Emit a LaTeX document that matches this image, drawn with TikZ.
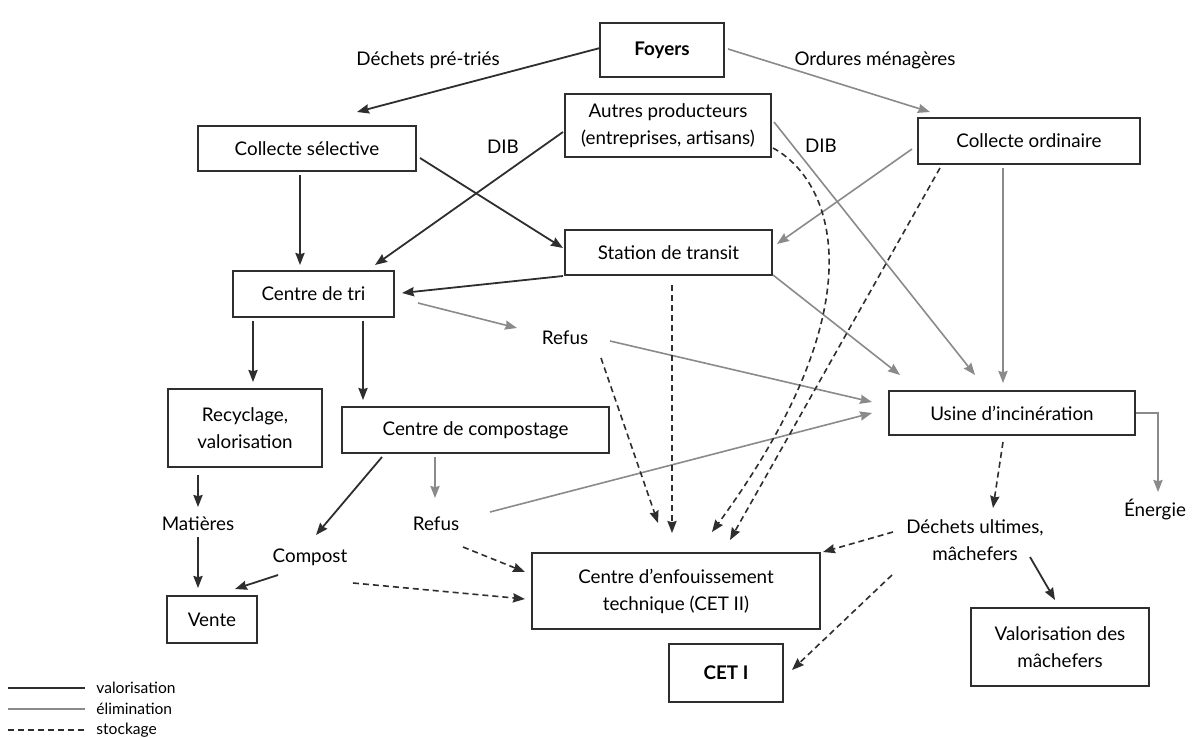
\documentclass[tikz,border=0pt]{standalone}
\usepackage{fontspec}
\setmainfont{Lato}
\usetikzlibrary{arrows.meta,calc}
\definecolor{dk}{HTML}{2E2E2E}
\definecolor{gr}{HTML}{8A8A8A}
\begin{document}
\begin{tikzpicture}[x=0.5pt,y=-0.5pt,
  every node/.style={font=\fontsize{9.4}{13.5}\selectfont},
  box/.style={draw=dk, line width=1pt, inner sep=0pt, align=center},
  lbl/.style={inner sep=0pt, align=center},
  tip/.style={-{Stealth[length=6pt,width=4.6pt,inset=0.6pt]}},
  valo/.style={draw=dk, line width=0.9pt, tip},
  elim/.style={draw=gr, line width=0.8pt, tip},
  stock/.style={draw=dk, line width=0.8pt, dash pattern=on 3pt off 2pt, tip},
  legtxt/.style={inner sep=0pt, anchor=west, font=\fontsize{7.8}{9}\selectfont}]
\useasboundingbox (0,0) rectangle (1195,738);
% boxes
\node[box, minimum width=62pt, minimum height=27pt, font=\fontsize{9.4}{13.5}\selectfont\bfseries] (foyers) at (662,50) {Foyers};
\node[box, minimum width=103pt, minimum height=31.5pt] (autres) at (668,125.5) {Autres producteurs\\(entreprises, artisans)};
\node[box, minimum width=109pt, minimum height=22.5pt] (csel) at (307,148.5) {Collecte sélective};
\node[box, minimum width=111pt, minimum height=23pt] (cord) at (1029,141) {Collecte ordinaire};
\node[box, minimum width=103.5pt, minimum height=22.5pt] (station) at (668.5,252.5) {Station de transit};
\node[box, minimum width=80.5pt, minimum height=23pt] (tri) at (313.5,294) {Centre de tri};
\node[box, minimum width=77pt, minimum height=39pt] (recyc) at (245,428) {Recyclage,\\valorisation};
\node[box, minimum width=133.5pt, minimum height=23pt] (compbox) at (475.5,430) {Centre de compostage};
\node[box, minimum width=123pt, minimum height=22pt] (usine) at (1012,413) {Usine d’incinération};
\node[box, minimum width=144pt, minimum height=38pt] (cet2) at (676,591) {Centre d’enfouissement\\technique (CET II)};
\node[box, minimum width=45pt, minimum height=23.5pt] (vente) at (212,619.5) {Vente};
\node[box, minimum width=89pt, minimum height=39pt] (valm) at (1060,647) {Valorisation des\\mâchefers};
\node[box, minimum width=57pt, minimum height=29pt, font=\fontsize{9.4}{13.5}\selectfont\bfseries] (cet1) at (726,673) {CET I};
% labels
\node[lbl] (dpt) at (428,60) {Déchets pré-triés};
\node[lbl] (om) at (875,60) {Ordures ménagères};
\node[lbl] (dib1) at (503,147) {DIB};
\node[lbl] (dib2) at (821,146) {DIB};
\node[lbl] (refus1) at (565,338) {Refus};
\node[lbl] (refus2) at (436,524) {Refus};
\node[lbl] (matieres) at (198,524) {Matières};
\node[lbl] (compost) at (310,557) {Compost};
\node[lbl] (dechets) at (975,540) {Déchets ultimes,\\mâchefers};
\node[lbl] (energie) at (1155,510) {Énergie};
% valorisation connectors
\draw[valo] ($(foyers)+(-62,-2)$) -- ($(csel)+(50,-36.5)$);
\draw[valo] ($(autres)+(-105,6.5)$) -- ($(tri)+(61.5,-29)$);
\draw[valo] ($(csel)+(113,9.5)$) -- ($(station)+(-105.5,-4.5)$);
\draw[valo] ($(csel)+(-7,26.5)$) -- ($(tri)+(-13.5,-29)$);
\draw[valo] ($(station)+(-105.5,23.5)$) -- ($(tri)+(88.5,-1)$);
\draw[valo] ($(tri)+(-60.5,27)$) -- ($(recyc)+(8,-46)$);
\draw[valo] ($(tri)+(49.5,27)$) -- ($(compbox)+(-112.5,-30)$);
\draw[valo] ($(recyc)+(-47,47)$) -- ($(matieres)+(0,-17)$);
\draw[valo] ($(matieres)+(0,13)$) -- ($(vente)+(-14,-31.5)$);
\draw[valo] ($(compbox)+(-93.5,27)$) -- ($(compost)+(6,-22)$);
\draw[valo] ($(compost)+(-32,18)$) -- ($(vente)+(23,-30.5)$);
\draw[valo] ($(dechets)+(55,17)$) -- ($(valm)+(-5,-47)$);
% elimination connectors
\draw[elim] ($(foyers)+(66,-1)$) -- ($(cord)+(-99,-29)$);
\draw[elim] ($(tri)+(104.5,9)$) -- ($(refus1)+(-48,-10)$);
\draw[elim] ($(refus1)+(45,3)$) -- ($(usine)+(-140,-11)$);
\draw[elim] ($(autres)+(106,-3.5)$) -- ($(usine)+(-37,-38)$);
\draw[elim] ($(cord)+(-117,8)$) -- ($(station)+(108.5,-8.5)$);
\draw[elim] ($(cord)+(-26,27)$) -- ($(usine)+(-9,-30)$);
\draw[elim] ($(station)+(104.5,22.5)$) -- ($(usine)+(-112,-38)$);
\draw[elim] ($(refus2)+(54,-12)$) -- ($(usine)+(-140,0)$);
\draw[elim] ($(compbox)+(-40.5,27)$) -- ($(refus2)+(-1,-26)$);
\draw[elim] (usine.east) -| ($(energie)+(3,-18)$);
% stockage connectors
\draw[stock] ($(refus2)+(27,23)$) -- ($(cet2)+(-151,-19)$);
\draw[stock] ($(compost)+(43,26)$) -- ($(cet2)+(-151,8)$);
\draw[stock] ($(refus1)+(36,20)$) -- ($(cet2)+(-18,-68)$);
\draw[stock] ($(station)+(3.5,32.5)$) -- ($(cet2)+(-4,-58)$);
\draw[stock] ($(autres)+(105,22.5)$) .. controls (832,180) and (882,300) .. ($(cet2)+(36,-59)$);
\draw[stock] ($(cord)+(-89,27)$) -- ($(cet2)+(54,-51)$);
\draw[stock] ($(usine)+(-9,29)$) -- ($(dechets)+(18,-32)$);
\draw[stock] ($(dechets)+(-82,-8)$) -- ($(cet2)+(147,-39)$);
\draw[stock] ($(dechets)+(-83,35)$) -- ($(cet1)+(66,-3)$);
% legend
\coordinate (l1a) at (8,688); \coordinate (l1b) at (85,688);
\coordinate (l2a) at (8,709); \coordinate (l2b) at (85,709);
\coordinate (l3a) at (8,730); \coordinate (l3b) at (85,730);
\draw[draw=dk, line width=0.9pt] (l1a) -- (l1b);
\draw[draw=gr, line width=0.8pt] (l2a) -- (l2b);
\draw[draw=dk, line width=0.8pt, dash pattern=on 3pt off 2pt] (l3a) -- (l3b);
\node[legtxt] (lg1) at (96,688) {valorisation};
\node[legtxt] (lg2) at (96,709) {élimination};
\node[legtxt] (lg3) at (96,730) {stockage};
\end{tikzpicture}
\end{document}
